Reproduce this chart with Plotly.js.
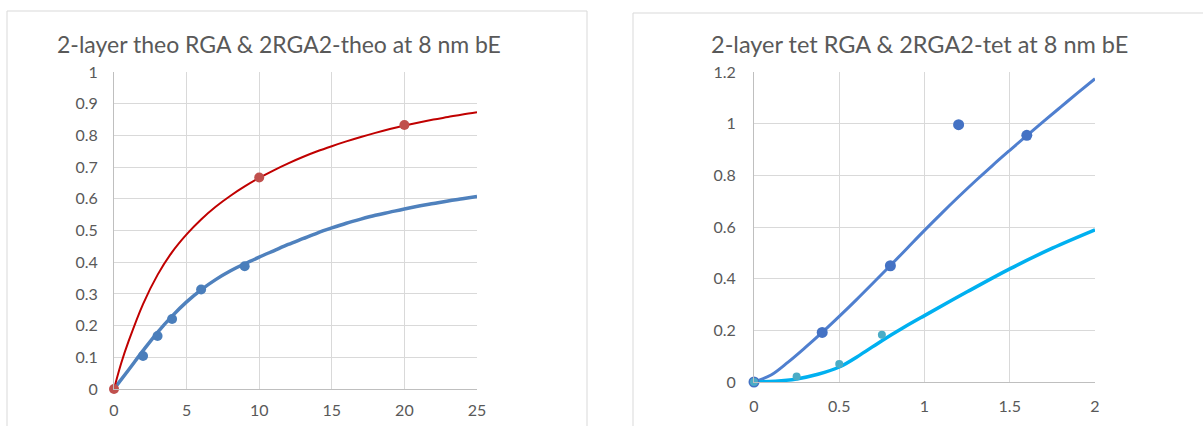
<!DOCTYPE html>
<html>
<head>
<meta charset="utf-8">
<script src="https://cdn.plot.ly/plotly-3.0.1.min.js"></script>
<style>html,body{margin:0;padding:0;background:#fff;}#chart{width:1203px;height:426px;}</style>
</head>
<body>
<div id="chart"></div>
<script>
// ---- Left chart: theo ----
const theoTitle = "2-layer theo RGA & 2RGA2-theo at 8 nm bE";
const theoRGA_curveX = [0, 0.5, 1, 2, 3, 4, 5, 6, 7, 8, 9, 10, 11, 12, 13, 14, 15, 16, 17, 18, 19, 20, 21, 22, 23, 24, 25];
const theoRGA_curveY = [0, 0.082, 0.15, 0.268, 0.36, 0.432, 0.488, 0.535, 0.575, 0.609, 0.639, 0.666, 0.69, 0.712, 0.732, 0.75, 0.766, 0.781, 0.795, 0.808, 0.82, 0.831, 0.841, 0.85, 0.858, 0.866, 0.873];
const theoRGA_ptsX = [0, 10, 20];
const theoRGA_ptsY = [0, 0.667, 0.833];
const theoRGA2_curveX = [0, 1, 2, 3, 4, 5, 6, 7, 8, 9, 10, 11, 12, 13, 14, 15, 16, 17, 18, 19, 20, 21, 22, 23, 24, 25];
const theoRGA2_curveY = [0, 0.06, 0.121, 0.179, 0.23, 0.275, 0.313, 0.345, 0.372, 0.395, 0.416, 0.436, 0.456, 0.474, 0.492, 0.508, 0.523, 0.536, 0.548, 0.558, 0.568, 0.577, 0.585, 0.593, 0.6, 0.607];
const theoRGA2_ptsX = [2, 3, 4, 6, 9];
const theoRGA2_ptsY = [0.104, 0.167, 0.221, 0.314, 0.387];

// ---- Right chart: tet ----
const tetTitle = "2-layer tet RGA & 2RGA2-tet at 8 nm bE";
const tetRGA_curveX = [0, 0.1, 0.2, 0.3, 0.4, 0.5, 0.6, 0.7, 0.8, 0.9, 1.0, 1.1, 1.2, 1.3, 1.4, 1.5, 1.6, 1.7, 1.8, 1.9, 2.0];
const tetRGA_curveY = [0, 0.027, 0.077, 0.133, 0.192, 0.254, 0.318, 0.384, 0.451, 0.519, 0.587, 0.653, 0.717, 0.779, 0.839, 0.897, 0.954, 1.01, 1.065, 1.12, 1.174];
const tetRGA_ptsX = [0, 0.4, 0.8, 1.2, 1.6];
const tetRGA_ptsY = [0, 0.192, 0.45, 0.996, 0.955];
const tetRGA2_curveX = [0, 0.125, 0.25, 0.375, 0.5, 0.625, 0.75, 0.875, 1.0, 1.25, 1.5, 1.75, 2.0];
const tetRGA2_curveY = [0, 0.003, 0.012, 0.03, 0.058, 0.106, 0.16, 0.21, 0.257, 0.349, 0.438, 0.518, 0.589];
const tetRGA2_ptsX = [0, 0.25, 0.5, 0.75];
const tetRGA2_ptsY = [0, 0.021, 0.07, 0.183];

const W = 1203, H = 426;
const px = v => v / W;
const py = v => (H - v) / H;

const font = "Lato, 'Open Sans', 'DejaVu Sans', sans-serif";
const grey = "#595959";

const traces = [
  {x: theoRGA2_curveX, y: theoRGA2_curveY, mode: "lines", line: {color: "#4F81BD", width: 3.5, shape: "spline"}, xaxis: "x", yaxis: "y"},
  {x: theoRGA_curveX, y: theoRGA_curveY, mode: "lines", line: {color: "#C00000", width: 2, shape: "spline"}, xaxis: "x", yaxis: "y"},
  {x: theoRGA2_ptsX, y: theoRGA2_ptsY, mode: "markers", marker: {color: "#4A7EBB", size: 10}, xaxis: "x", yaxis: "y", cliponaxis: false},
  {x: theoRGA_ptsX, y: theoRGA_ptsY, mode: "markers", marker: {color: "#C0504D", size: 10}, xaxis: "x", yaxis: "y", cliponaxis: false},
  {x: tetRGA_curveX, y: tetRGA_curveY, mode: "lines", line: {color: "#4F7FCF", width: 3, shape: "spline"}, xaxis: "x2", yaxis: "y2"},
  {x: tetRGA2_curveX, y: tetRGA2_curveY, mode: "lines", line: {color: "#00B0F0", width: 3.5, shape: "spline"}, xaxis: "x2", yaxis: "y2"},
  {x: tetRGA_ptsX, y: tetRGA_ptsY, mode: "markers", marker: {color: "#4472C4", size: 11}, xaxis: "x2", yaxis: "y2", cliponaxis: false},
  {x: tetRGA2_ptsX, y: tetRGA2_ptsY, mode: "markers", marker: {color: "#4BACC6", size: 8}, xaxis: "x2", yaxis: "y2", cliponaxis: false}
];

const axBase = {
  showgrid: true, gridcolor: "#D9D9D9", gridwidth: 1,
  zeroline: false, showline: true, linecolor: "#BFBFBF", linewidth: 1,
  ticks: "", tickfont: {family: font, size: 16, color: grey}, fixedrange: true
};

const layout = {
  width: W, height: H,
  margin: {l: 0, r: 0, t: 0, b: 0},
  paper_bgcolor: "#fff", plot_bgcolor: "#fff",
  showlegend: false,
  xaxis: Object.assign({}, axBase, {domain: [px(114), px(477)], range: [0, 25], dtick: 5, anchor: "y", ticklabelstandoff: 7}),
  yaxis: Object.assign({}, axBase, {domain: [py(389), py(72)], range: [0, 1], dtick: 0.1, anchor: "x", ticklabelstandoff: 12}),
  xaxis2: Object.assign({}, axBase, {domain: [px(754), px(1095)], range: [0, 2], dtick: 0.5, anchor: "y2", ticklabelstandoff: 10}),
  yaxis2: Object.assign({}, axBase, {domain: [py(382), py(72)], range: [0, 1.2], dtick: 0.2, anchor: "x2", ticklabelstandoff: 14}),
  annotations: [
    {text: theoTitle, xref: "paper", yref: "paper", x: px(278.5), y: py(44), xanchor: "center", yanchor: "middle", showarrow: false, font: {family: font, size: 23, color: grey}},
    {text: tetTitle, xref: "paper", yref: "paper", x: px(919.5), y: py(44), xanchor: "center", yanchor: "middle", showarrow: false, font: {family: font, size: 23.5, color: grey}}
  ],
  shapes: [
    {type: "rect", xref: "paper", yref: "paper", x0: px(7), x1: px(587), y0: py(440), y1: py(11), line: {color: "#D9D9D9", width: 1}},
    {type: "rect", xref: "paper", yref: "paper", x0: px(633), x1: px(1220), y0: py(440), y1: py(13), line: {color: "#D9D9D9", width: 1}}
  ]
};

Plotly.newPlot("chart", traces, layout, {staticPlot: true, displayModeBar: false});
</script>
</body>
</html>
